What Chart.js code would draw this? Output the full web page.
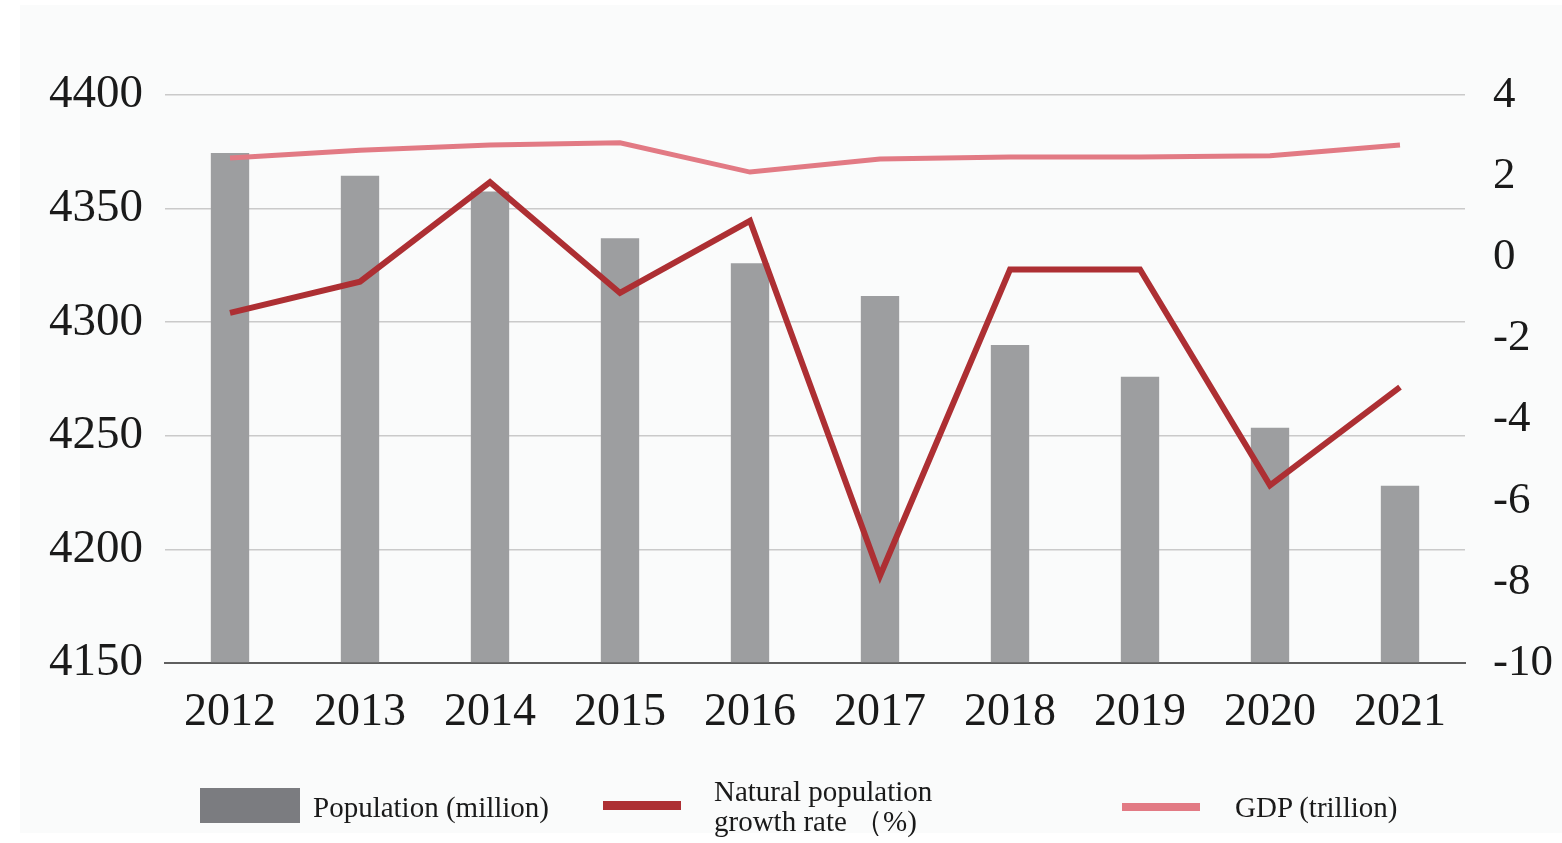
<!DOCTYPE html>
<html>
<head>
<meta charset="utf-8">
<script src="https://cdn.jsdelivr.net/npm/chart.js@4"></script>
<style>
  html, body { margin:0; padding:0; background:#ffffff; width:1562px; height:843px; overflow:hidden; }
  #bg { position:absolute; left:20px; top:5px; width:1542px; height:828px; background:#fafbfb; }
  #wrap { position:absolute; left:0; top:0; width:1562px; height:843px; }
  .lg { position:absolute; font-family:"Liberation Serif","DejaVu Serif",serif; font-size:29px; color:#1a1a1a; line-height:30px; white-space:nowrap; }
  .sw { position:absolute; }
</style>
</head>
<body>
<div id="bg"></div>
<div id="wrap"><canvas id="c" width="1562" height="843"></canvas></div>
<div class="sw" style="left:200px;top:788px;width:100px;height:35px;background:#7b7c80;"></div>
<div class="lg" style="left:313px;top:792px;">Population (million)</div>
<div class="sw" style="left:603px;top:801px;width:78px;height:9px;background:#ad2f33;"></div>
<div class="lg" style="left:714px;top:776px;">Natural population<br>growth rate （%)</div>
<div class="sw" style="left:1122px;top:803px;width:78px;height:8px;background:#e27a84;"></div>
<div class="lg" style="left:1235px;top:792px;">GDP (trillion)</div>
<script>
const years = ["2012","2013","2014","2015","2016","2017","2018","2019","2020","2021"];
const population = [4374.5, 4364.5, 4357.5, 4337, 4326, 4311.5, 4290, 4276, 4253.5, 4228];
const naturalGrowth = [-1.37, -0.6, 1.85, -0.88, 0.9, -7.85, -0.3, -0.3, -5.62, -3.2];
const gdp = [2.45, 2.64, 2.77, 2.82, 2.1, 2.42, 2.47, 2.47, 2.5, 2.77];
const leftTicks = [4150, 4200, 4250, 4300, 4350, 4400];
const rightTicks = [-10, -8, -6, -4, -2, 0, 2, 4];

const serif = '"Liberation Serif","DejaVu Serif",serif';

new Chart(document.getElementById('c'), {
  data: {
    labels: years,
    datasets: [
      { type:'line', label:'Natural population growth rate （%)', data:naturalGrowth, yAxisID:'y1',
        borderColor:'#ad2f33', borderWidth:6, pointRadius:0, tension:0, order:1 },
      { type:'line', label:'GDP (trillion)', data:gdp, yAxisID:'y1',
        borderColor:'#e27a84', borderWidth:5, pointRadius:0, tension:0, order:2 },
      { type:'bar', label:'Population (million)', data:population, yAxisID:'y',
        backgroundColor:'#9d9ea0', categoryPercentage:1, barPercentage:0.295, order:3,
        base:4150 }
    ]
  },
  options: {
    responsive:false,
    animation:false,
    layout:{ padding:{ top:95, bottom:100, left:0, right:0 } },
    plugins:{ legend:{ display:false }, tooltip:{ enabled:false } },
    scales:{
      x:{
        grid:{ display:false, drawTicks:false },
        border:{ display:true, color:'#5f5f5f', width:2 },
        ticks:{ font:{ family:serif, size:46 }, color:'#1a1a1a', padding:22, maxRotation:0 },
        afterFit(s){ s.height = 80; }
      },
      y:{
        position:'left', min:4150, max:4400,
        afterBuildTicks(s){ s.ticks = leftTicks.map(v=>({value:v})); },
        grid:{ color:(ctx)=> ctx.tick && ctx.tick.value===4150 ? 'rgba(0,0,0,0)' : '#cacaca', lineWidth:1.5, drawTicks:false },
        border:{ display:false },
        ticks:{ font:{ family:serif, size:47 }, color:'#1a1a1a', padding:22, callback:(v)=>String(v) },
        afterFit(s){ s.width = 165; }
      },
      y1:{
        position:'right', min:-10, max:4,
        afterBuildTicks(s){ s.ticks = rightTicks.map(v=>({value:v})); },
        grid:{ display:false, drawTicks:false },
        border:{ display:false },
        ticks:{ font:{ family:serif, size:45 }, color:'#1a1a1a', padding:28, callback:(v)=>String(v) },
        afterFit(s){ s.width = 97; }
      }
    }
  }
});
</script>
</body>
</html>
